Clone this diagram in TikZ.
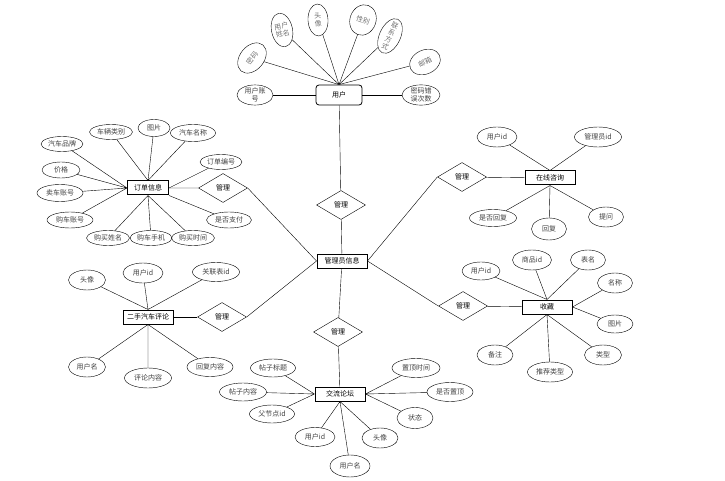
\documentclass[tikz,border=0pt]{standalone}
\usepackage{fontspec}
\setmainfont{Noto Sans CJK SC}
\usetikzlibrary{shapes.geometric}
\begin{document}
\begin{tikzpicture}[x=1pt,y=-1pt,
  font=\fontsize{7}{7.8}\selectfont,
  ent/.style={draw, line width=1pt, minimum width=50pt, minimum height=14pt, inner sep=1pt},
  attr/.style={ellipse, draw, thin, text=black!75, inner sep=0pt, minimum width=44pt, minimum height=18pt},
  attrs/.style={attr, minimum width=36pt, minimum height=20pt},
  top/.style={attr, text=black!55, align=center},
  rel/.style={diamond, draw, thin, inner sep=0pt, minimum width=49pt, minimum height=29pt}]
\useasboundingbox (0,0) rectangle (725,481);

% User
\node[draw, rounded corners=3pt, line width=0.8pt, minimum width=46pt, minimum height=20pt] (user) at (339,95) {用户};
\node[attrs, align=center] (uacc) at (255,95) {用户账\\号};
\node[attrs, align=center, minimum width=38pt] (uerr) at (421,95) {密码错\\误次数};
\node[top, minimum width=34pt, minimum height=24pt, rotate=50] (upwd) at (252,58) {密码};
\node[top, minimum width=21pt, minimum height=34pt, rotate=12] (uname) at (282,30) {用户\\姓名};
\node[top, minimum width=20pt, minimum height=32pt, rotate=3] (uhead) at (318,20) {头\\像};
\node[top, minimum width=26pt, minimum height=31pt, rotate=-20] (usex) at (363,20) {性别};
\node[top, inner sep=-3pt, minimum width=21pt, minimum height=37pt, rotate=-25] (utel) at (390,36) {联\\系\\方\\式};
\node[top, minimum width=32pt, minimum height=24pt, rotate=25] (umail) at (425,62) {邮箱};
\draw (upwd) -- (user.north) (uname) -- (user.north) (uhead) -- (user.north)
      (usex) -- (user.north) (utel) -- (user.north) (umail) -- (user.north);
\draw (uacc) -- (user) (uerr) -- (user);

% Order
\node[ent, minimum width=41pt] (order) at (148,188) {订单信息};
\node[attr, minimum width=42pt, minimum height=15pt] (ocb) at (62,144) {汽车品牌};
\node[attr, minimum width=43pt, minimum height=15pt] (ocat) at (111,132) {车辆类别};
\node[attr, minimum width=32pt, minimum height=17pt] (opic) at (154,128) {图片};
\node[attr, minimum width=45pt, minimum height=17pt] (oname) at (193,133) {汽车名称};
\node[attr, minimum width=42pt, minimum height=15pt] (ono) at (221,162) {订单编号};
\node[attr, minimum width=38pt, minimum height=16pt] (oprice) at (61,170) {价格};
\node[attr, minimum width=46pt, minimum height=17pt] (oseller) at (60,193) {卖车账号};
\node[attr, minimum width=46pt, minimum height=16pt] (obuyer) at (70,220) {购车账号};
\node[attr, minimum width=43pt, minimum height=15pt] (obname) at (108,238) {购买姓名};
\node[attr, minimum width=42pt, minimum height=15pt] (obtel) at (151,238) {购车手机};
\node[attr, minimum width=43pt, minimum height=15pt] (obtime) at (193,238) {购买时间};
\node[attr, minimum width=45pt, minimum height=16pt] (opay) at (229,220) {是否支付};
\draw (ocb) -- (order.west) (oprice) -- (order.west) (oseller) -- (order.west) (obuyer) -- (order.west);
\draw (ocat) -- (order.north) (opic) -- (order.north) (oname) -- (order.north) (ono) -- (order.east);
\draw (obname) -- (order.south) (obtel) -- (order.south) (obtime) -- (order.south) (opay) -- (order.south east);

% Admin and relations
\node[ent] (admin) at (342,261) {管理员信息};
\node[rel] (r1) at (341,205) {管理};
\node[rel] (r2) at (223,188) {管理};
\node[rel] (r3) at (462,177) {管理};
\node[rel] (r4) at (463,306) {管理};
\node[rel] (r5) at (222,317) {管理};
\node[rel] (r6) at (338,332) {管理};
\draw (user) -- (r1) -- (admin);
\draw (order) -- (r2) (r2.east) -- (admin.west);
\draw (r3.west) -- (admin.east) (r4.west) -- (admin.east);
\draw (r5.east) -- (admin.west) (admin) -- (r6);

% Consult
\node[ent] (consult) at (550,178) {在线咨询};
\node[attr, minimum width=40pt, minimum height=20pt] (cuid) at (497,137) {用户id};
\node[attr, minimum width=47pt, minimum height=20pt] (cmid) at (598,137) {管理员id};
\node[attr, minimum width=47pt, minimum height=17pt] (cisr) at (493,218) {是否回复};
\node[attrs, minimum width=35pt, minimum height=22pt] (creply) at (549,229) {回复};
\node[attrs, minimum width=35pt] (cask) at (606,217) {提问};
\draw (r3) -- (consult);
\draw (cuid) -- (consult.north) (cmid) -- (consult.north);
\draw (cisr) -- (consult.south) (creply) -- (consult.south) (cask) -- (consult.south);

% Collect
\node[ent] (coll) at (547,307) {收藏};
\node[attrs, minimum width=38pt, minimum height=18pt] (luid) at (481,271) {用户id};
\node[attrs, minimum width=39pt] (lgid) at (532,260) {商品id};
\node[attrs, minimum width=35pt] (ltab) at (588,260) {表名};
\node[attrs, minimum width=35pt] (lname) at (615,283) {名称};
\node[attrs, minimum width=36pt, minimum height=18pt] (lpic) at (615,324) {图片};
\node[attrs, minimum width=37pt] (ltype) at (603,355) {类型};
\node[attr, minimum width=45pt, minimum height=20pt] (lrec) at (550,372) {推荐类型};
\node[attrs] (lnote) at (495,355) {备注};
\draw (r4) -- (coll);
\draw (luid) -- (coll.north) (lgid) -- (coll.north) (ltab) -- (coll.north);
\draw (lname) -- (coll.east) (lpic) -- (coll.east);
\draw (ltype) -- (coll.south) (lrec) -- (coll.south) (lnote) -- (coll.south);

% Comment
\node[ent] (cmt) at (148,317) {二手汽车评论};
\node[attrs, minimum width=37pt] (mhead) at (87,280) {头像};
\node[attr, minimum width=40pt, minimum height=20pt] (muid) at (143,273) {用户id};
\node[attr, minimum width=47pt, minimum height=19pt] (mtid) at (216,272) {关联表id};
\node[attrs, minimum width=37pt] (muname) at (87,367) {用户名};
\node[attr, minimum width=47pt, minimum height=20pt] (mcont) at (148,378) {评论内容};
\node[attr, minimum width=46pt, minimum height=19pt] (mrep) at (210,367) {回复内容};
\draw (cmt) -- (r5);
\draw (mhead) -- (cmt.north) (muid) -- (cmt.north) (mtid) -- (cmt.north);
\draw (muname) -- (cmt.south) (mcont) -- (cmt.south) (mrep) -- (cmt.south);

% Forum
\node[ent] (forum) at (340,394) {交流论坛};
\node[attr, minimum width=45pt] (ftitle) at (273,368) {帖子标题};
\node[attr, minimum width=47pt] (fcont) at (243,392) {帖子内容};
\node[attr, minimum width=45pt] (fpid) at (272,414) {父节点id};
\node[attrs, minimum width=40pt, minimum height=19pt] (fuid) at (315,437) {用户id};
\node[attrs, minimum width=40pt, minimum height=22pt] (funame) at (350,466) {用户名};
\node[attrs] (fhead) at (380,438) {头像};
\node[attr, minimum width=48pt, minimum height=19pt] (ftop) at (416,368) {置顶时间};
\node[attr, minimum width=46pt, minimum height=19pt] (fist) at (450,392) {是否置顶};
\node[attrs, minimum height=21pt] (fstate) at (415,418) {状态};
\draw (r6) -- (forum);
\draw (ftitle) -- (forum.west) (fcont) -- (forum.west) (fpid) -- (forum.west);
\draw (fuid) -- (forum.south) (funame) -- (forum.south) (fhead) -- (forum.south);
\draw (ftop) -- (forum.east) (fist) -- (forum.east) (fstate) -- (forum.east);

\end{tikzpicture}
\end{document}
